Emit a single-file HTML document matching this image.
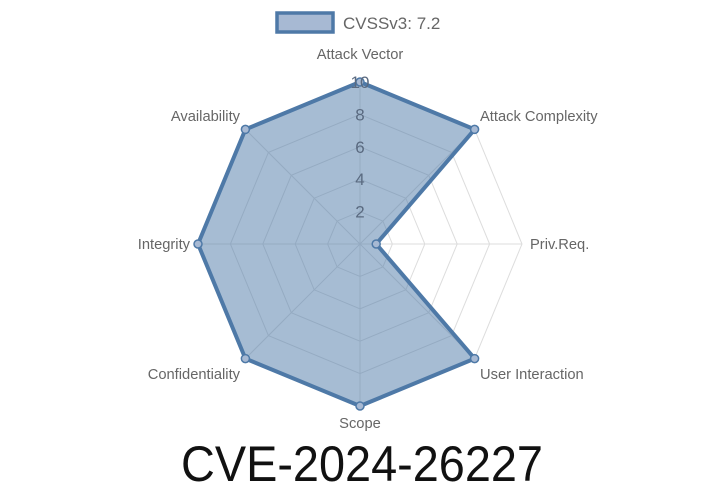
<!DOCTYPE html>
<html><head><style>body{margin:0;background:#fff}svg{display:block}</style></head><body>
<svg width="720" height="504" viewBox="0 0 720 504" font-family="Liberation Sans, sans-serif">
<rect x="277" y="13" width="56" height="19" fill="#a7b9d3" stroke="#4e79a7" stroke-width="3.5"/>
<text x="343" y="29" font-size="17" fill="#666">CVSSv3: 7.2</text>
<g fill="none" stroke="#ddd" stroke-width="1">
<polygon points="360,211.6 382.9,221.1 392.4,244 382.9,266.9 360,276.4 337.1,266.9 327.6,244 337.1,221.1"/>
<polygon points="360,179.2 405.8,198.2 424.8,244 405.8,289.8 360,308.8 314.2,289.8 295.2,244 314.2,198.2"/>
<polygon points="360,146.8 428.7,175.3 457.2,244 428.7,312.7 360,341.2 291.3,312.7 262.8,244 291.3,175.3"/>
<polygon points="360,114.4 451.6,152.4 489.6,244 451.6,335.6 360,373.6 268.4,335.6 230.4,244 268.4,152.4"/>
<polygon points="360,82 474.6,129.4 522,244 474.6,358.6 360,406 245.4,358.6 198,244 245.4,129.4"/>
<line x1="360" y1="244" x2="360" y2="82"/><line x1="360" y1="244" x2="474.6" y2="129.4"/><line x1="360" y1="244" x2="522" y2="244"/><line x1="360" y1="244" x2="474.6" y2="358.6"/><line x1="360" y1="244" x2="360" y2="406"/><line x1="360" y1="244" x2="245.4" y2="358.6"/><line x1="360" y1="244" x2="198" y2="244"/><line x1="360" y1="244" x2="245.4" y2="129.4"/>
</g>
<polygon points="360,82 474.6,129.4 376.2,244 474.6,358.6 360,406 245.4,358.6 198,244 245.4,129.4" fill="rgba(78,121,167,0.5)" stroke="#4e79a7" stroke-width="4" stroke-linejoin="round"/>
<g fill="#a7b9d3" stroke="#4e79a7" stroke-width="1.5">
<circle cx="360" cy="82" r="4"/><circle cx="474.6" cy="129.4" r="4"/><circle cx="376.2" cy="244" r="4"/><circle cx="474.6" cy="358.6" r="4"/><circle cx="360" cy="406" r="4"/><circle cx="245.4" cy="358.6" r="4"/><circle cx="198" cy="244" r="4"/><circle cx="245.4" cy="129.4" r="4"/>
</g>
<g font-size="17" fill="#5a6a80" text-anchor="middle">
<text x="360" y="217.6">2</text><text x="360" y="185.2">4</text><text x="360" y="152.8">6</text><text x="360" y="120.4">8</text><text x="360" y="88">10</text>
</g>
<g font-size="14.7" fill="#666">
<text x="360" y="59" text-anchor="middle">Attack Vector</text>
<text x="480" y="121">Attack Complexity</text>
<text x="530" y="249">Priv.Req.</text>
<text x="480" y="379">User Interaction</text>
<text x="360" y="428" text-anchor="middle">Scope</text>
<text x="240" y="379" text-anchor="end">Confidentiality</text>
<text x="190" y="249" text-anchor="end">Integrity</text>
<text x="240" y="121" text-anchor="end">Availability</text>
</g>
<text x="181" y="481" font-size="50" fill="#111" textLength="362" lengthAdjust="spacingAndGlyphs">CVE-2024-26227</text>
</svg>
</body></html>
